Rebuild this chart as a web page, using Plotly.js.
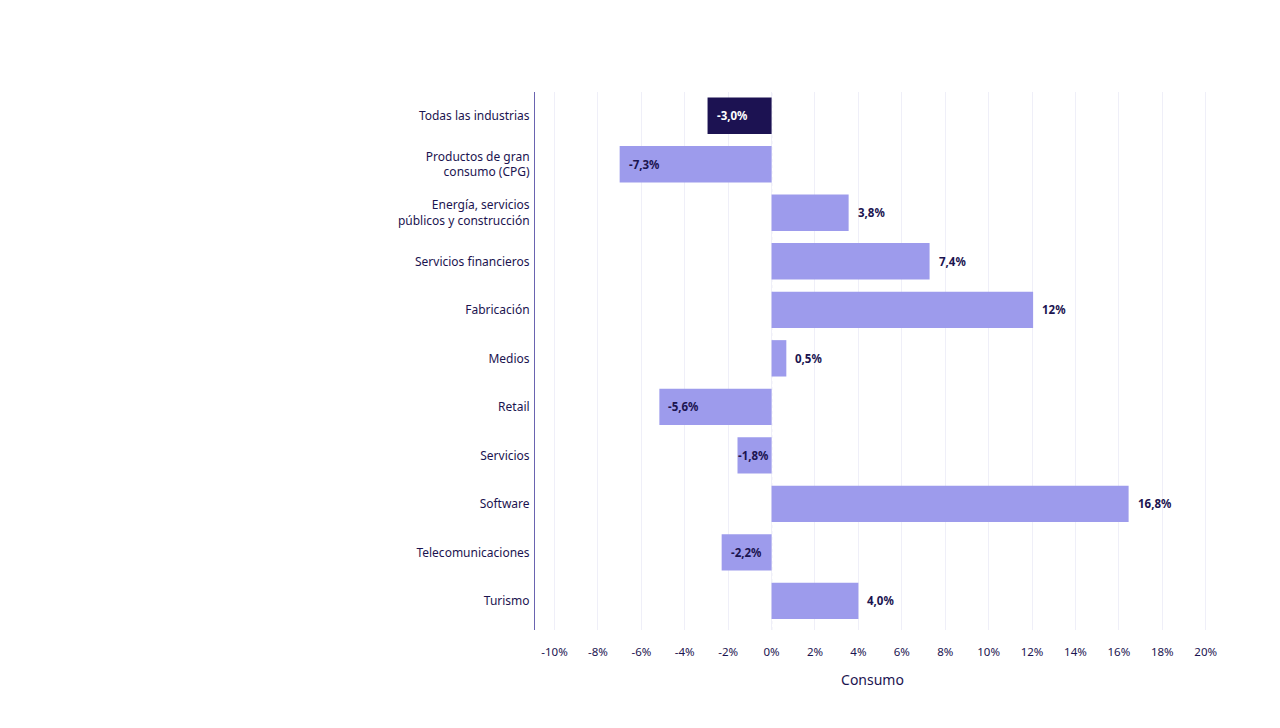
<!DOCTYPE html>
<html><head><meta charset="utf-8">
<script src="https://cdn.plot.ly/plotly-3.0.1.min.js"></script>
<style>html,body{margin:0;padding:0;background:#fff}#chart{width:1280px;height:728px}</style>
</head><body><div id="chart"></div>
<script>
const categories = [
  "Todas las industrias",
  "Productos de gran<br>consumo (CPG)",
  "Energía, servicios<br>públicos y construcción",
  "Servicios financieros",
  "Fabricación",
  "Medios",
  "Retail",
  "Servicios",
  "Software",
  "Telecomunicaciones",
  "Turismo"
];
// bar lengths as drawn in the picture (percent)
const barValues = [-2.95, -7.0, 3.55, 7.28, 12.05, 0.68, -5.17, -1.57, 16.45, -2.3, 4.0];
// labels as printed on the picture
const valueLabels = ["-3,0%", "-7,3%", "3,8%", "7,4%", "12%", "0,5%", "-5,6%", "-1,8%", "16,8%", "-2,2%", "4,0%"];
const highlight = [true, false, false, false, false, false, false, false, false, false, false];
const tickVals = [-10, -8, -6, -4, -2, 0, 2, 4, 6, 8, 10, 12, 14, 16, 18, 20];
const tickText = ["-10%", "-8%", "-6%", "-4%", "-2%", "0%", "2%", "4%", "6%", "8%", "10%", "12%", "14%", "16%", "18%", "20%"];

const navy = "#1b1450";
const light = "#9d9bec";
const dark = "#1c1252";
const font = "Noto Sans, sans-serif";

const trace = {
  type: "bar",
  orientation: "h",
  y: categories,
  x: barValues,
  width: 0.75,
  marker: { color: highlight.map(h => h ? dark : light), line: { width: 0 } },
  hoverinfo: "skip"
};

const annotations = barValues.map((v, i) => {
  const small = v < 0 && v > -2;
  return {
    x: small ? 0 : v,
    y: categories[i],
    xref: "x", yref: "y",
    text: valueLabels[i],
    showarrow: false,
    xanchor: small ? "right" : "left",
    xshift: small ? -1 : 7,
    font: { family: font, size: 11.5, color: highlight[i] ? "#ffffff" : navy, weight: 700 }
  };
});

const layout = {
  width: 1280, height: 728,
  paper_bgcolor: "#ffffff", plot_bgcolor: "#ffffff",
  margin: { l: 535, r: 70, t: 92, b: 98 },
  showlegend: false,
  font: { family: font, color: navy, size: 12 },
  xaxis: {
    range: [-10.9, 20.2],
    tickvals: tickVals, ticktext: tickText,
    showgrid: true, gridcolor: "#efeff8", gridwidth: 1,
    zeroline: false, showline: false,
    ticks: "", ticklabelstandoff: 13,
    tickfont: { family: font, size: 11.5, color: navy },
    title: { text: "Consumo", font: { family: font, size: 14, color: navy }, standoff: 17 },
    fixedrange: true
  },
  yaxis: {
    type: "category",
    range: [10.6, -0.49],
    autorange: false,
    showgrid: false, zeroline: false,
    showline: true, linecolor: "#6a64b0", linewidth: 1,
    ticks: "", ticklabelstandoff: 2,
    tickfont: { family: font, size: 12, color: navy },
    fixedrange: true
  },
  shapes: [{
    type: "line", xref: "x", yref: "paper", x0: 0, x1: 0, y0: 0, y1: 1,
    line: { color: "#9a96c8", width: 1, dash: "dot" }, layer: "below"
  }],
  annotations: annotations
};

Plotly.newPlot("chart", [trace], layout, { displayModeBar: false, staticPlot: true });
</script></body></html>
